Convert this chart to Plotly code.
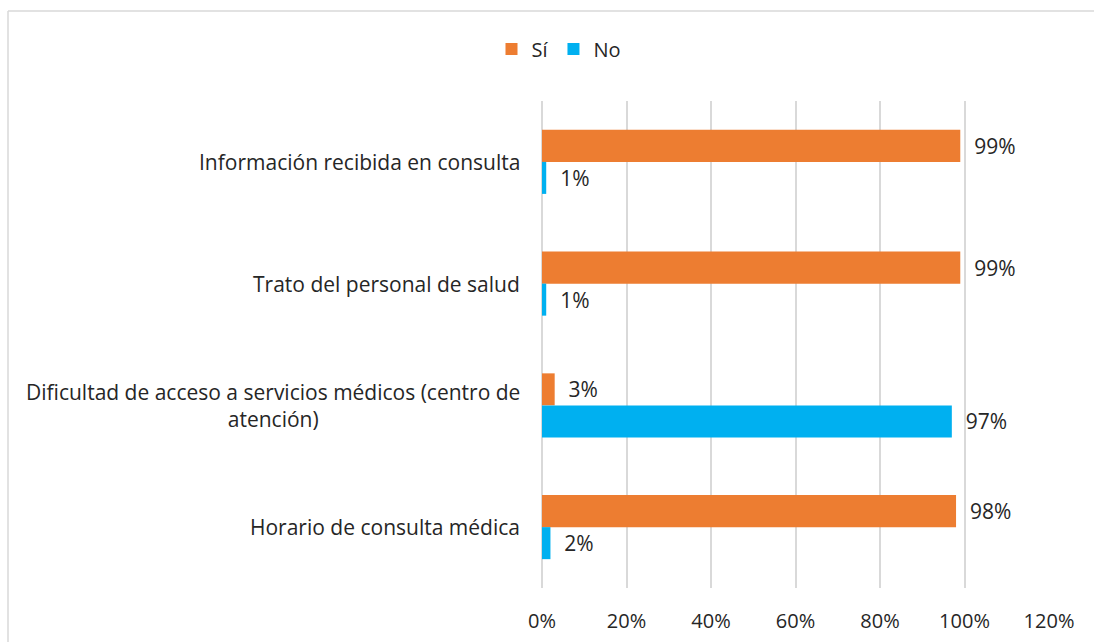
import plotly.graph_objects as go

categories = [
    "Información recibida en consulta",
    "Trato del personal de salud",
    "Dificultad de acceso a servicios médicos (centro de<br>atención)",
    "Horario de consulta médica",
]
si_values = [99, 99, 3, 98]
no_values = [1, 1, 97, 2]
x_ticks = [0, 20, 40, 60, 80, 100, 120]
x_tick_labels = ["0%", "20%", "40%", "60%", "80%", "100%", "120%"]

FONT = "Open Sans"
TXT = "#262626"
W, H = 1094, 642
L, R, T, B = 542, 45, 101, 54
pw, ph = W - L - R, H - T - B

fig = go.Figure()
fig.add_trace(go.Bar(
    y=categories, x=si_values, orientation="h", name="Sí",
    marker=dict(color="#ED7D31", line=dict(width=0)),
    text=[f"\u00a0\u00a0{v}%" for v in si_values], textposition="outside",
    textfont=dict(family=FONT, size=21, color=TXT), cliponaxis=False,
))
fig.add_trace(go.Bar(
    y=categories, x=no_values, orientation="h", name="No",
    marker=dict(color="#00B0F0", line=dict(width=0)),
    text=[f"\u00a0\u00a0{v}%" for v in no_values], textposition="outside",
    textfont=dict(family=FONT, size=21, color=TXT), cliponaxis=False,
))

for c in categories:
    fig.add_annotation(
        x=0, xref="paper", y=c, yref="y", xanchor="right", xshift=-20,
        text=c, showarrow=False, align="center",
        font=dict(family=FONT, size=21, color=TXT),
    )

fig.add_shape(type="line", xref="paper", yref="paper",
              x0=(8 - L) / pw, x1=(W + 10 - L) / pw,
              y0=(H - B - 11) / ph, y1=(H - B - 11) / ph,
              line=dict(color="#D9D9D9", width=1.5))
fig.add_shape(type="line", xref="paper", yref="paper",
              x0=(8 - L) / pw, x1=(8 - L) / pw,
              y0=(H - B - 11) / ph, y1=-(B + 10) / ph,
              line=dict(color="#D9D9D9", width=1.5))

fig.update_layout(
    width=W, height=H,
    margin=dict(l=L, r=R, t=T, b=B, autoexpand=False),
    plot_bgcolor="white", paper_bgcolor="white",
    barmode="group", bargap=0.474, bargroupgap=0,
    font=dict(family=FONT, size=20, color=TXT),
    legend=dict(orientation="h", x=(559 - L) / pw, xanchor="center",
                y=(H - B - 49) / ph, yanchor="middle",
                font=dict(family=FONT, size=20, color=TXT),
                itemwidth=30, traceorder="normal"),
    xaxis=dict(range=[0, 120], tickvals=x_ticks, ticktext=x_tick_labels,
               showgrid=True, gridcolor="#D9D9D9", gridwidth=1.5,
               zeroline=True, zerolinecolor="#D9D9D9", zerolinewidth=1.5,
               showline=False, ticks="", ticklen=0, ticklabelstandoff=19,
               automargin=False,
               tickfont=dict(family=FONT, size=20, color=TXT)),
    yaxis=dict(autorange="reversed", showticklabels=False, showgrid=False,
               showline=False, ticks="", automargin=False),
)

fig.write_html("out.html", config={"displayModeBar": False},
               post_script="document.body.style.margin='0';")
